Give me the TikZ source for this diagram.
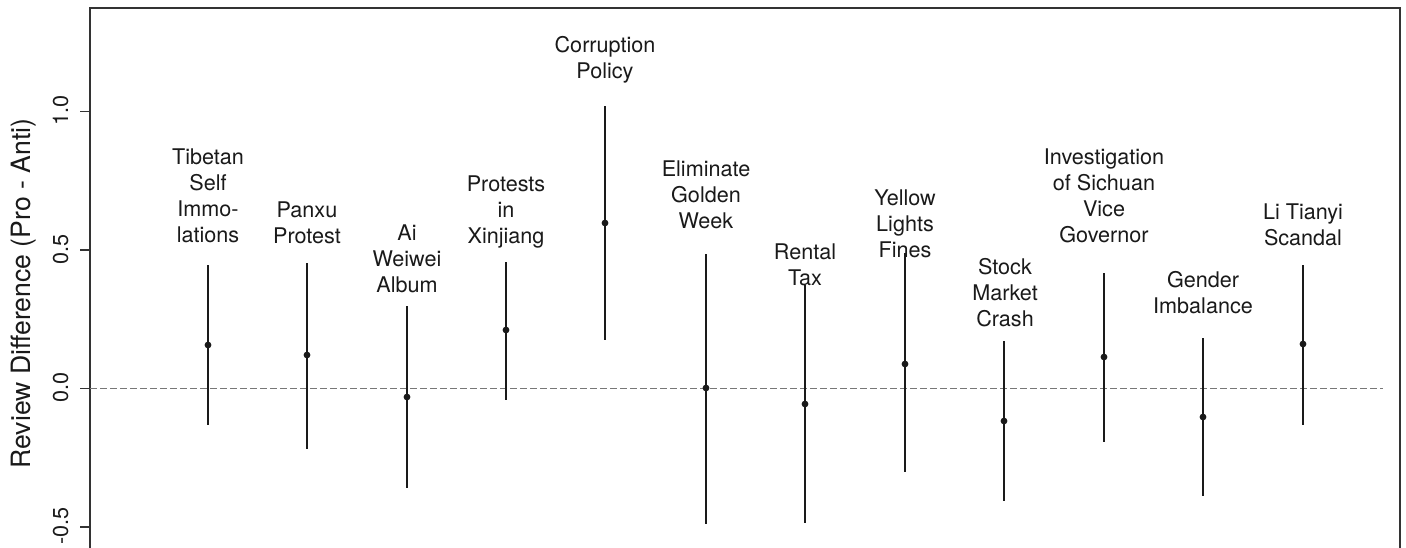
\documentclass[tikz,border=0pt]{standalone}
\usepackage{fontspec}
\setmainfont{TeX Gyre Heros}
\definecolor{ink}{HTML}{1A1A1A}
\definecolor{dashgrey}{HTML}{777777}
\definecolor{framegrey}{HTML}{333333}
\begin{document}
\begin{tikzpicture}[x=0.5pt,y=-0.5pt,
  frame/.style={draw=framegrey,line width=0.6pt},
  tickline/.style={draw=framegrey,line width=0.6pt},
  zeroline/.style={draw=dashgrey,line width=0.7pt,dash pattern=on 3.3pt off 1.7pt},
  bar/.style={draw=ink,line width=1pt},
  dot/.style={circle,fill=ink,inner sep=0pt,minimum size=3.4pt},
  evlabel/.style={anchor=north,align=center,inner sep=0pt,text=ink,
    font=\fontsize{10.8}{13}\selectfont},
  ticklab/.style={anchor=base,rotate=90,inner sep=0pt,text=ink,
    font=\fontsize{10.8}{13}\selectfont},
  axtitle/.style={anchor=base,rotate=90,inner sep=0pt,text=ink,
    font=\fontsize{13.3}{16}\selectfont}]
\useasboundingbox (0,0) rectangle (1406,547);
\clip (0,0) rectangle (1406,547);
\fill[white] (0,0) rectangle (1406,547);
% frame
\coordinate (fbl) at (90,620);
\coordinate (ftl) at (90,8);
\coordinate (ftr) at (1400,8);
\coordinate (fbr) at (1400,620);
\draw[frame] (fbl) -- (ftl) -- (ftr) -- (fbr);
% zero line
\coordinate (z0) at (90,388.5);
\coordinate (z1) at (1383,388.5);
\draw[zeroline] (z0) -- (z1);
% ticks and tick labels
\foreach \i/\v/\t in {1/1/1.0,2/0.5/0.5,3/0/0.0,4/-0.5/-0.5}{
  \coordinate (ta\i) at (80,{388.5-277*\v});
  \coordinate (tb\i) at (90,{388.5-277*\v});
  \draw[tickline] (ta\i) -- (tb\i);
  \node[ticklab] (tl\i) at (68,{387.5-277*\v}) {\t};
}
\node[axtitle] (ytitle) at (31,293.5) {Review Difference (Pro - Anti)};
% intervals
\foreach \i/\x/\hi/\m/\lo in {
  1/208/265/345/425, 2/307/263/355/449, 3/407/306/397/488,
  4/506/262/330/400, 5/605/106/223/340, 6/706/254/388/524,
  7/805/285/404/523, 8/905/253/364/472, 9/1004/341/421/501,
  10/1104/273/357/442, 11/1203/338/417/496, 12/1303/265/344/425}{
  \coordinate (hi\i) at (\x,\hi);
  \coordinate (lo\i) at (\x,\lo);
  \draw[bar] (hi\i) -- (lo\i);
  \node[dot] (pt\i) at (\x,\m) {};
}
% labels
\node[evlabel] (l1) at (208,148) {Tibetan\\Self\\Immo-\\lations};
\node[evlabel] (l2) at (307,201) {Panxu\\Protest};
\node[evlabel] (l3) at (407,224) {Ai\\Weiwei\\Album};
\node[evlabel] (l4) at (506,175) {Protests\\in\\Xinjiang};
\node[evlabel] (l5) at (605,36) {Corruption\\Policy};
\node[evlabel] (l6) at (706,160) {Eliminate\\Golden\\Week};
\node[evlabel] (l7) at (805,243) {Rental\\Tax};
\node[evlabel] (l8) at (905,189) {Yellow\\Lights\\Fines};
\node[evlabel] (l9) at (1005,258) {Stock\\Market\\Crash};
\node[evlabel] (l10) at (1104,148) {Investigation\\of Sichuan\\Vice\\Governor};
\node[evlabel] (l11) at (1203,271) {Gender\\Imbalance};
\node[evlabel] (l12) at (1303,203) {Li Tianyi\\Scandal};
\end{tikzpicture}
\end{document}
